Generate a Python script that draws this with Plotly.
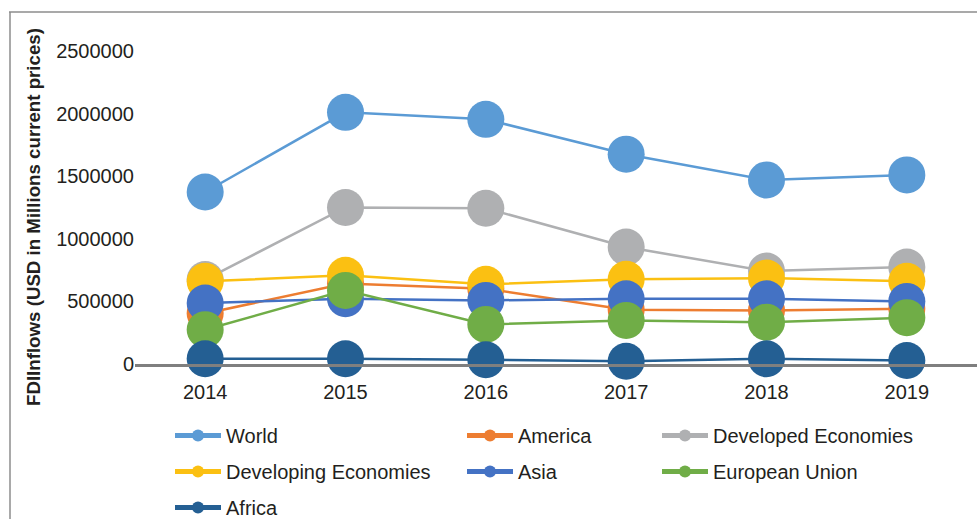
"""FDI inflows by region, 2014-2019 — line chart with large markers (Plotly)."""

import plotly.graph_objects as go

YEARS = ["2014", "2015", "2016", "2017", "2018", "2019"]

WORLD = [1374000, 2010000, 1954000, 1676000, 1470000, 1510000]
AMERICA = [404000, 642000, 602000, 434000, 428000, 442000]
DEVELOPED = [674000, 1250000, 1244000, 934000, 742000, 774000]
DEVELOPING = [660000, 708000, 636000, 676000, 686000, 660000]
ASIA = [487000, 521000, 508000, 521000, 521000, 500000]
EU = [274000, 588000, 316000, 348000, 334000, 370000]
AFRICA = [42000, 42000, 34000, 22000, 42000, 28000]

# name, values, colour, legend column
SERIES = [
    ("World", WORLD, "#5B9BD5", "legend"),
    ("America", AMERICA, "#ED7D31", "legend2"),
    ("Developed Economies", DEVELOPED, "#AFB0B2", "legend3"),
    ("Developing Economies", DEVELOPING, "#FBC012", "legend"),
    ("Asia", ASIA, "#4472C4", "legend2"),
    ("European Union", EU, "#70AD47", "legend3"),
    ("Africa", AFRICA, "#245F93", "legend"),
]

W, H = 977, 519
L, R, T, B = 135, 0, 51, 155
PW, PH = W - L - R, H - T - B


def px_x(x):
    return (x - L) / PW


def px_y(y):
    return (H - B - y) / PH


TEXT = "#231F20"
FONT = "Arial, Liberation Sans, sans-serif"

fig = go.Figure()
for name, vals, color, leg in SERIES:
    fig.add_trace(go.Scatter(
        x=YEARS, y=vals, name=name, mode="lines+markers",
        line=dict(color=color, width=2.5),
        marker=dict(color=color, size=37),
        cliponaxis=False,
        legend=leg, legendgroup=name,
    ))

legend_common = dict(
    orientation="v", xanchor="left", yanchor="top",
    font=dict(size=20, color=TEXT, family=FONT),
    bgcolor="rgba(0,0,0,0)", itemsizing="constant", itemwidth=46,
    tracegroupgap=7,
)

fig.update_layout(
    width=W, height=H,
    margin=dict(l=L, r=R, t=T, b=B, autoexpand=False),
    paper_bgcolor="white", plot_bgcolor="white",
    font=dict(family=FONT, size=20, color=TEXT),
    showlegend=True,
    legend=dict(x=px_x(170), y=px_y(416), **legend_common),
    legend2=dict(x=px_x(462), y=px_y(416), **legend_common),
    legend3=dict(x=px_x(657), y=px_y(416), **legend_common),
    xaxis=dict(
        range=[-0.5, 5.5], showgrid=False, zeroline=False,
        showline=True, linecolor="#7F7F7F", linewidth=3,
        ticks="", ticklabelstandoff=8,
        tickfont=dict(size=20, color=TEXT),
    ),
    yaxis=dict(
        range=[0, 2500000], tickvals=[0, 500000, 1000000, 1500000, 2000000, 2500000],
        tickformat="d", showgrid=False, zeroline=False, showline=False,
        ticks="", tickfont=dict(size=20, color=TEXT),
    ),
    annotations=[dict(
        text="<b>FDIInflows (USD in Millions current prices)</b>",
        xref="paper", yref="paper", x=px_x(33), y=px_y(217),
        xanchor="center", yanchor="middle", textangle=-90,
        showarrow=False, font=dict(size=18.7, color=TEXT, family=FONT),
    )],
    shapes=[
        dict(type="line", xref="paper", yref="paper",
             x0=px_x(9), x1=px_x(985), y0=px_y(12), y1=px_y(12),
             line=dict(color="#8C8C8C", width=1.5)),
        dict(type="line", xref="paper", yref="paper",
             x0=px_x(10), x1=px_x(10), y0=px_y(12), y1=px_y(530),
             line=dict(color="#8C8C8C", width=1.5)),
    ],
)

fig.write_html(
    "out.html",
    config={"displayModeBar": False},
    post_script="document.body.style.margin='0';",
)
